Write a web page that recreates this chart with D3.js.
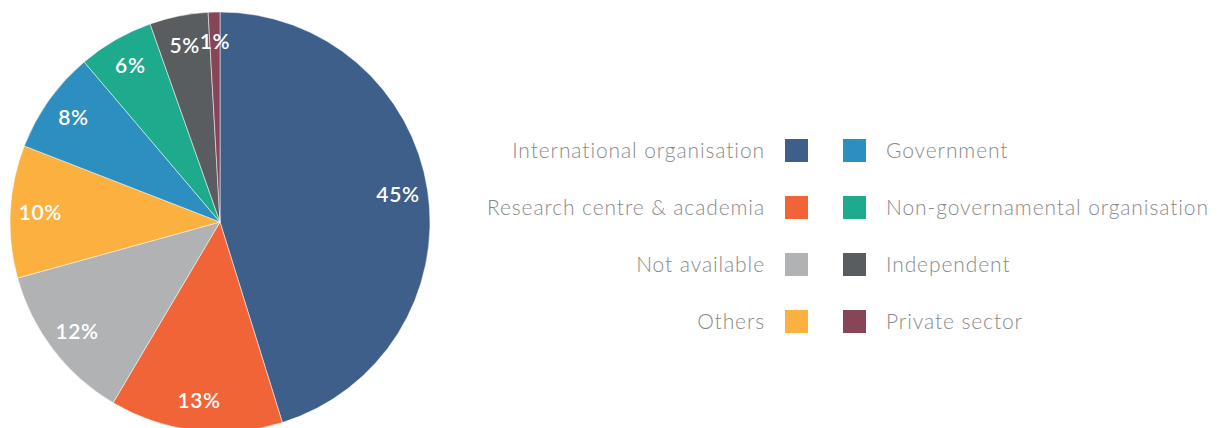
<!DOCTYPE html>
<html>
<head>
<meta charset="utf-8">
<script src="https://cdn.jsdelivr.net/npm/d3@7"></script>
<style>
  body { margin: 0; background: #fff; }
  svg { display: block; }
</style>
</head>
<body>
<script>
var categories = ["International organisation", "Research centre & academia", "Not available", "Others",
    "Government", "Non-governamental organisation", "Independent", "Private sector"];
var shares = [45.2, 13.3, 12.2, 10.2, 7.9, 5.8, 4.5, 0.9];
var shareLabels = ["45%", "13%", "12%", "10%", "8%", "6%", "5%", "1%"];
var colours = ["#3e5f8a", "#f06437", "#b1b2b4", "#fbb040", "#2d8fbf", "#1eab8d", "#5a5d5f", "#874558"];

var width = 1219, height = 428;
var svg = d3.select("body").append("svg").attr("width", width).attr("height", height);

var radius = 210;
var pieG = svg.append("g").attr("transform", "translate(220,222)");

var pie = d3.pie().sort(null).value(function (d) { return d; });
var arc = d3.arc().innerRadius(0).outerRadius(radius);
var labelArc = d3.arc().innerRadius(180).outerRadius(180);
var color = d3.scaleOrdinal().domain(categories).range(colours);

var arcs = pie(shares);

pieG.selectAll("path")
    .data(arcs)
    .enter().append("path")
    .attr("d", arc)
    .attr("fill", function (d, i) { return color(categories[i]); })
    .attr("stroke", "#ffffff")
    .attr("stroke-width", 0.5);

pieG.selectAll("text")
    .data(arcs)
    .enter().append("text")
    .attr("transform", function (d) { return "translate(" + labelArc.centroid(d) + ")"; })
    .attr("text-anchor", "middle")
    .attr("dy", "0.35em")
    .attr("fill", "#ffffff")
    .style("font-family", "Lato, 'Open Sans', sans-serif")
    .style("font-weight", 600)
    .style("font-size", "21px")
    .style("letter-spacing", "0.6px")
    .text(function (d, i) { return shareLabels[i]; });

// legend: two columns of four
var legend = svg.append("g").attr("class", "legend");
var rowY = d3.scalePoint().domain([0, 1, 2, 3]).range([150.5, 321.5]);

var items = legend.selectAll("g")
    .data(categories)
    .enter().append("g")
    .attr("transform", function (d, i) {
        var col = Math.floor(i / 4);
        return "translate(" + (col === 0 ? 785 : 843) + "," + rowY(i % 4) + ")";
    });

items.append("rect")
    .attr("x", 0)
    .attr("y", -11.5)
    .attr("width", 23)
    .attr("height", 23)
    .attr("fill", function (d) { return color(d); });

items.append("text")
    .attr("x", function (d, i) { return i < 4 ? -20 : 43; })
    .attr("dy", "0.35em")
    .attr("text-anchor", function (d, i) { return i < 4 ? "end" : "start"; })
    .attr("fill", "#8a8a8a")
    .style("font-family", "Lato, 'Open Sans', sans-serif")
    .style("font-weight", 300)
    .style("font-size", "21px")
    .style("letter-spacing", "0.9px")
    .text(function (d) { return d; });
</script>
</body>
</html>
